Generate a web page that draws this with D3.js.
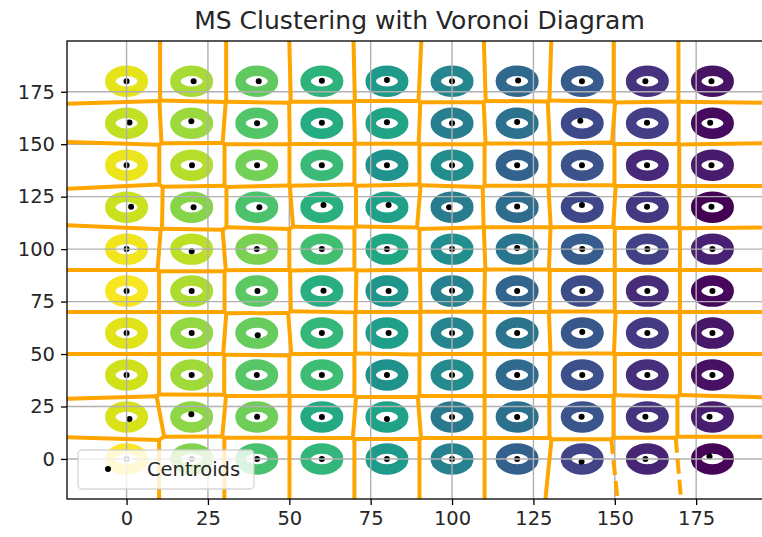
<!DOCTYPE html>
<html>
<head>
<meta charset="utf-8">
<script src="https://cdn.jsdelivr.net/npm/d3@7"></script>
<style>
  html, body { margin: 0; padding: 0; background: #ffffff; }
  svg { display: block; font-family: "DejaVu Sans", sans-serif; }
</style>
</head>
<body>
<svg id="chart" width="762" height="537"></svg>
<script>
// Grid of cluster centres (x by column, y by row, rows listed top to bottom)
const clusterX = [0, 20, 40, 60, 80, 100, 120, 140, 160, 180];
const clusterY = [180, 160, 140, 120, 100, 80, 60, 40, 20, 0];

// Mean-shift cluster label of each ring (rows top to bottom), coloured with viridis
const clusterLabels = [
  [95, 86, 75, 64, 53, 46, 33, 28, 14, 5],
  [90, 84, 72, 61, 58, 42, 37, 22, 18, 3],
  [96, 88, 78, 67, 51, 48, 31, 25, 11, 7],
  [91, 81, 71, 63, 56, 41, 35, 21, 16, 0],
  [97, 89, 79, 69, 59, 49, 39, 29, 19, 9],
  [98, 87, 74, 62, 52, 43, 32, 23, 12, 2],
  [94, 83, 76, 66, 55, 45, 38, 27, 17, 6],
  [92, 85, 73, 68, 50, 47, 34, 24, 13, 4],
  [93, 82, 77, 60, 57, 40, 36, 26, 15, 8],
  [99, 80, 70, 65, 54, 44, 30, 20, 10, 1]
];

// Centroids found by mean shift (rows top to bottom)
const centroidX = [
  [0.0, 20.6, 40.6, 60.0, 80.0, 100.0, 120.3, 139.9, 159.4, 179.7],
  [0.9, 19.9, 40.1, 60.0, 80.0, 100.0, 120.0, 139.4, 159.9, 179.3],
  [0.0, 20.1, 40.1, 60.0, 80.0, 100.0, 120.0, 139.9, 159.9, 179.7],
  [1.4, 20.6, 40.8, 60.5, 80.5, 99.1, 120.0, 139.9, 159.9, 179.7],
  [0.0, 20.0, 40.0, 60.0, 80.0, 100.0, 120.0, 140.0, 160.0, 180.0],
  [0.0, 20.0, 40.2, 60.5, 80.5, 100.0, 120.0, 140.0, 160.0, 180.0],
  [0.0, 20.0, 40.3, 60.0, 80.5, 100.0, 120.0, 140.0, 160.0, 180.0],
  [0.0, 20.0, 40.0, 60.0, 80.0, 100.0, 120.0, 140.0, 160.0, 180.0],
  [0.9, 19.9, 40.1, 60.0, 80.0, 100.0, 120.0, 139.8, 159.4, 179.1],
  [0.0, 20.0, 40.1, 60.0, 80.0, 100.0, 120.0, 139.8, 159.4, 179.1]
];
const centroidY = [
  [180.0, 180.0, 180.0, 180.3, 180.6, 180.0, 180.4, 180.0, 180.0, 180.0],
  [160.4, 161.0, 160.0, 160.2, 160.5, 160.0, 160.6, 161.2, 160.2, 160.2],
  [140.0, 140.0, 140.0, 140.0, 140.0, 140.0, 140.0, 140.0, 140.0, 140.0],
  [120.2, 120.0, 120.0, 121.0, 121.0, 120.0, 120.3, 121.0, 120.2, 120.2],
  [100.0, 99.0, 100.0, 100.0, 100.0, 100.0, 100.5, 100.0, 100.0, 100.0],
  [80.0, 80.0, 80.0, 80.2, 80.0, 80.2, 80.0, 80.0, 80.0, 80.0],
  [60.0, 60.0, 59.0, 60.0, 60.0, 60.0, 60.0, 60.5, 60.0, 60.0],
  [40.0, 40.0, 40.0, 40.0, 40.0, 40.0, 40.0, 40.0, 40.0, 40.0],
  [19.0, 21.3, 20.1, 20.0, 19.0, 20.0, 20.0, 20.1, 20.1, 20.1],
  [0.0, 0.0, 0.0, 0.0, 0.0, 0.0, 0.0, -1.3, 0.0, 1.1]
];

// Axis limits and ticks
const xDomain = [-18.3, 198.3];
const yDomain = [-19.1, 199.2];
const xTicks = [0, 25, 50, 75, 100, 125, 150, 175];
const yTicks = [0, 25, 50, 75, 100, 125, 150, 175];

// Ridges between these centroid pairs run off to infinity and are drawn dashed
const openRidges = [[[9, 7], [9, 8]], [[9, 8], [9, 9]]];

const chartTitle = "MS Clustering with Voronoi Diagram";
const legendLabel = "Centroids";
const ringRadius = 5;

const plot = { left: 67, top: 41, right: 772, bottom: 499 };
const svg = d3.select("#chart");

const x = d3.scaleLinear().domain(xDomain).range([plot.left, plot.right]);
const y = d3.scaleLinear().domain(yDomain).range([plot.bottom, plot.top]);

svg.append("defs").append("clipPath").attr("id", "plot-clip")
  .append("rect")
  .attr("x", plot.left).attr("y", plot.top)
  .attr("width", plot.right - plot.left).attr("height", plot.bottom - plot.top);

const body = svg.append("g").attr("clip-path", "url(#plot-clip)");

// Flatten cluster grid
const clusters = [];
clusterY.forEach((cyv, r) => clusterX.forEach((cxv, c) => {
  clusters.push({
    r, c, x: cxv, y: cyv,
    label: clusterLabels[r][c],
    cx: centroidX[r][c], cy: centroidY[r][c]
  });
}));

const maxLabel = d3.max(clusters, d => d.label);
const color = d3.scaleSequential(d3.interpolateViridis).domain([0, maxLabel]);

// Rings of points around each cluster centre
const kx = Math.abs(x(1) - x(0));
const ky = Math.abs(y(1) - y(0));
body.append("g").selectAll("ellipse").data(clusters).join("ellipse")
  .attr("cx", d => x(d.x)).attr("cy", d => y(d.y))
  .attr("rx", ringRadius * kx).attr("ry", ringRadius * ky)
  .attr("fill", "none")
  .attr("stroke", d => color(d.label))
  .attr("stroke-width", 10.5);

// Centroid markers
body.append("g").selectAll("circle").data(clusters).join("circle")
  .attr("cx", d => x(d.cx)).attr("cy", d => y(d.cy))
  .attr("r", 3).attr("fill", "#000");

// Grid lines
const grid = body.append("g").attr("stroke", "#b0b0b0").attr("stroke-width", 1.4);
grid.selectAll(".gx").data(xTicks).join("line")
  .attr("x1", d => x(d)).attr("x2", d => x(d))
  .attr("y1", plot.top).attr("y2", plot.bottom);
grid.selectAll(".gy").data(yTicks).join("line")
  .attr("y1", d => y(d)).attr("y2", d => y(d))
  .attr("x1", plot.left).attr("x2", plot.right);

// Voronoi diagram of the centroids, computed in data space
const delaunay = d3.Delaunay.from(clusters, d => d.cx, d => d.cy);
const voronoi = delaunay.voronoi([xDomain[0], yDomain[0], xDomain[1], yDomain[1]]);
const polys = clusters.map((d, i) => (voronoi.cellPolygon(i) || []).slice(0, -1));
const same = (a, b) => Math.abs(a[0] - b[0]) < 1e-7 && Math.abs(a[1] - b[1]) < 1e-7;
const ridges = [];
clusters.forEach((d, i) => {
  for (const j of delaunay.neighbors(i)) {
    if (j <= i) continue;
    const shared = polys[i].filter(a => polys[j].some(b => same(a, b)));
    if (shared.length < 2) continue;
    const seg = shared.slice(0, 2).sort((a, b) => b[1] - a[1]);
    const o = clusters[j];
    const open = openRidges.some(([p, q]) =>
      (p[0] === d.r && p[1] === d.c && q[0] === o.r && q[1] === o.c) ||
      (q[0] === d.r && q[1] === d.c && p[0] === o.r && p[1] === o.c));
    ridges.push({ seg, open });
  }
});
body.append("g").selectAll("line").data(ridges).join("line")
  .attr("x1", d => x(d.seg[0][0])).attr("y1", d => y(d.seg[0][1]))
  .attr("x2", d => x(d.seg[1][0])).attr("y2", d => y(d.seg[1][1]))
  .attr("stroke", "#ffa500")
  .attr("stroke-width", 4)
  .attr("stroke-dasharray", d => d.open ? "15,6" : null);

// Axes
const xAxis = d3.axisBottom(x).tickValues(xTicks).tickSize(6).tickPadding(6).tickFormat(d3.format("d"));
const yAxis = d3.axisLeft(y).tickValues(yTicks).tickSize(6).tickPadding(6).tickFormat(d3.format("d"));
const gx = svg.append("g").attr("transform", `translate(0,${plot.bottom})`).call(xAxis);
const gy = svg.append("g").attr("transform", `translate(${plot.left},0)`).call(yAxis);
[gx, gy].forEach(g => {
  g.select(".domain").remove();
  g.selectAll(".tick line").attr("stroke", "#000").attr("stroke-width", 1.3);
  g.selectAll(".tick text").attr("fill", "#262626")
    .style("font-size", "19.5px").style("font-family", "DejaVu Sans, sans-serif");
});

// Spines
svg.append("rect")
  .attr("x", plot.left).attr("y", plot.top)
  .attr("width", plot.right - plot.left).attr("height", plot.bottom - plot.top)
  .attr("fill", "none").attr("stroke", "#000").attr("stroke-width", 1.3);

// Title
svg.append("text")
  .attr("x", (plot.left + plot.right) / 2).attr("y", 29)
  .attr("text-anchor", "middle")
  .attr("fill", "#262626")
  .style("font-size", "25px")
  .text(chartTitle);

// Legend
const legend = svg.append("g");
legend.append("rect")
  .attr("x", 78).attr("y", 450).attr("width", 176).attr("height", 39)
  .attr("rx", 4).attr("fill", "#ffffff").attr("fill-opacity", 0.8)
  .attr("stroke", "#cccccc").attr("stroke-opacity", 0.8).attr("stroke-width", 1.3);
legend.append("circle").attr("cx", 108).attr("cy", 469).attr("r", 3).attr("fill", "#000");
legend.append("text").attr("x", 147).attr("y", 476)
  .attr("fill", "#262626").style("font-size", "19.5px").text(legendLabel);
</script>
</body>
</html>
